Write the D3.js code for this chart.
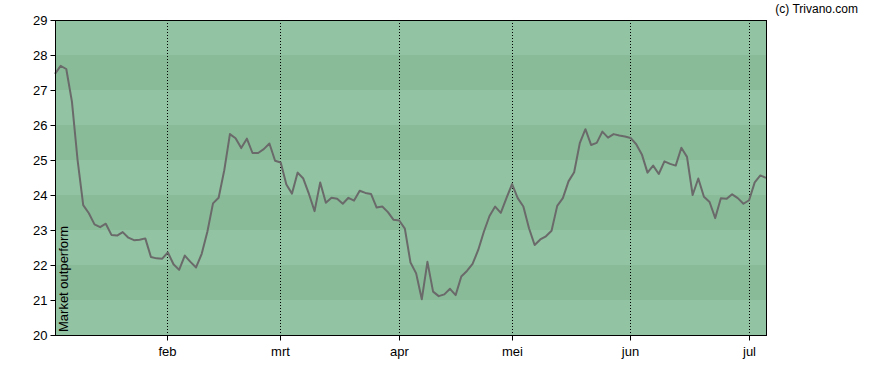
<!DOCTYPE html>
<html>
<head>
<meta charset="utf-8">
<script src="https://cdn.jsdelivr.net/npm/d3@7"></script>
<style>
  html, body { margin: 0; padding: 0; background: #fff; }
  svg text { font-family: "Liberation Sans", Arial, sans-serif; }
</style>
</head>
<body>
<svg id="chart" width="888" height="370"></svg>
<script>
// ---- data ----
const values = [
  27.46, 27.69, 27.60, 26.67, 25.00, 23.71, 23.48, 23.16, 23.08, 23.18,
  22.86, 22.84, 22.94, 22.78, 22.71, 22.72, 22.76, 22.23, 22.19, 22.18,
  22.36, 22.02, 21.86, 22.27, 22.09, 21.93, 22.32, 22.95, 23.76, 23.92,
  24.71, 25.74, 25.62, 25.34, 25.61, 25.20, 25.20, 25.31, 25.47, 24.98,
  24.93, 24.30, 24.04, 24.64, 24.47, 24.03, 23.54, 24.36, 23.78, 23.92,
  23.89, 23.75, 23.92, 23.84, 24.12, 24.06, 24.03, 23.64, 23.67, 23.51,
  23.29, 23.27, 23.04, 22.07, 21.76, 21.02, 22.09, 21.24, 21.11, 21.16,
  21.32, 21.14, 21.67, 21.83, 22.03, 22.43, 22.95, 23.40, 23.67, 23.49,
  23.91, 24.31, 23.91, 23.67, 23.05, 22.57, 22.73, 22.82, 22.98, 23.69,
  23.91, 24.39, 24.65, 25.48, 25.88, 25.43, 25.49, 25.81, 25.64, 25.74,
  25.70, 25.67, 25.63, 25.45, 25.16, 24.64, 24.84, 24.60, 24.96, 24.89,
  24.84, 25.35, 25.09, 24.00, 24.47, 23.95, 23.80, 23.34, 23.91, 23.89,
  24.02, 23.91, 23.75, 23.85, 24.36, 24.56, 24.49
];
const monthLabels = ["feb", "mrt", "apr", "mei", "jun", "jul"];
const monthIndex = [20, 40, 61, 81, 102, 123];
const yTicks = [20, 21, 22, 23, 24, 25, 26, 27, 28, 29];
const yTitle = "Market outperform";
const credit = "(c) Trivano.com";

// ---- layout ----
const W = 888, H = 370;
const m = { left: 55, right: 122, top: 20, bottom: 35 };
const pw = W - m.left - m.right, ph = H - m.top - m.bottom;

const svg = d3.select("#chart");
const x = d3.scaleLinear().domain([0, values.length - 1]).range([m.left, m.left + pw]);
const y = d3.scaleLinear().domain([20, 29]).range([m.top + ph, m.top]);
const px = d => Math.floor(x(d)) + 0.5;

// bands
const bands = d3.range(20, 29);
svg.append("g").selectAll("rect").data(bands).join("rect")
  .attr("x", m.left).attr("width", pw)
  .attr("y", d => y(d + 1)).attr("height", d => y(d) - y(d + 1))
  .attr("fill", d => (d % 2 === 1) ? "#8abb99" : "#92c3a2");

// month dotted lines
svg.append("g").selectAll("line").data(monthIndex).join("line")
  .attr("x1", px).attr("x2", px)
  .attr("y1", m.top).attr("y2", m.top + ph)
  .attr("stroke", "#000").attr("stroke-width", 1).attr("stroke-dasharray", "1,2");

// line
const line = d3.line().x((d, i) => x(i)).y(d => y(d));
svg.append("path").datum(values)
  .attr("d", line).attr("fill", "none")
  .attr("stroke", "#6a6a6a").attr("stroke-width", 2)
  .attr("stroke-linejoin", "round");

// frame
svg.append("rect")
  .attr("x", m.left + 0.5).attr("y", m.top + 0.5)
  .attr("width", pw).attr("height", ph)
  .attr("fill", "none").attr("stroke", "#000").attr("stroke-width", 1);

// y axis
const yAxis = d3.axisLeft(y).tickValues(yTicks).tickSize(5).tickPadding(3).tickFormat(d3.format("d"));
const gy = svg.append("g").attr("transform", `translate(${m.left + 0.5},0)`).call(yAxis);
gy.select(".domain").remove();
gy.selectAll("text").attr("font-size", 13).attr("fill", "#000").attr("font-family", "'Liberation Sans', Arial, sans-serif");
gy.selectAll("line").attr("stroke", "#000");

// x axis
const xAxis = d3.axisBottom(x).tickValues(monthIndex).tickSize(5).tickPadding(6)
  .tickFormat((d, i) => monthLabels[i]);
const gx = svg.append("g").attr("transform", `translate(0,${m.top + ph + 0.5})`).call(xAxis);
gx.select(".domain").remove();
gx.selectAll(".tick").attr("transform", d => `translate(${px(d)},0)`);
gx.selectAll("text").attr("font-size", 13).attr("fill", "#000").attr("font-family", "'Liberation Sans', Arial, sans-serif");
gx.selectAll("line").attr("stroke", "#000");

// y title
svg.append("text")
  .attr("transform", `translate(${m.left + 13},${m.top + ph - 3}) rotate(-90)`)
  .attr("font-size", 13).attr("fill", "#000")
  .text(yTitle);

// credit
svg.append("text")
  .attr("x", 858).attr("y", 13).attr("text-anchor", "end")
  .attr("font-size", 12).attr("fill", "#000")
  .text(credit);
</script>
</body>
</html>
